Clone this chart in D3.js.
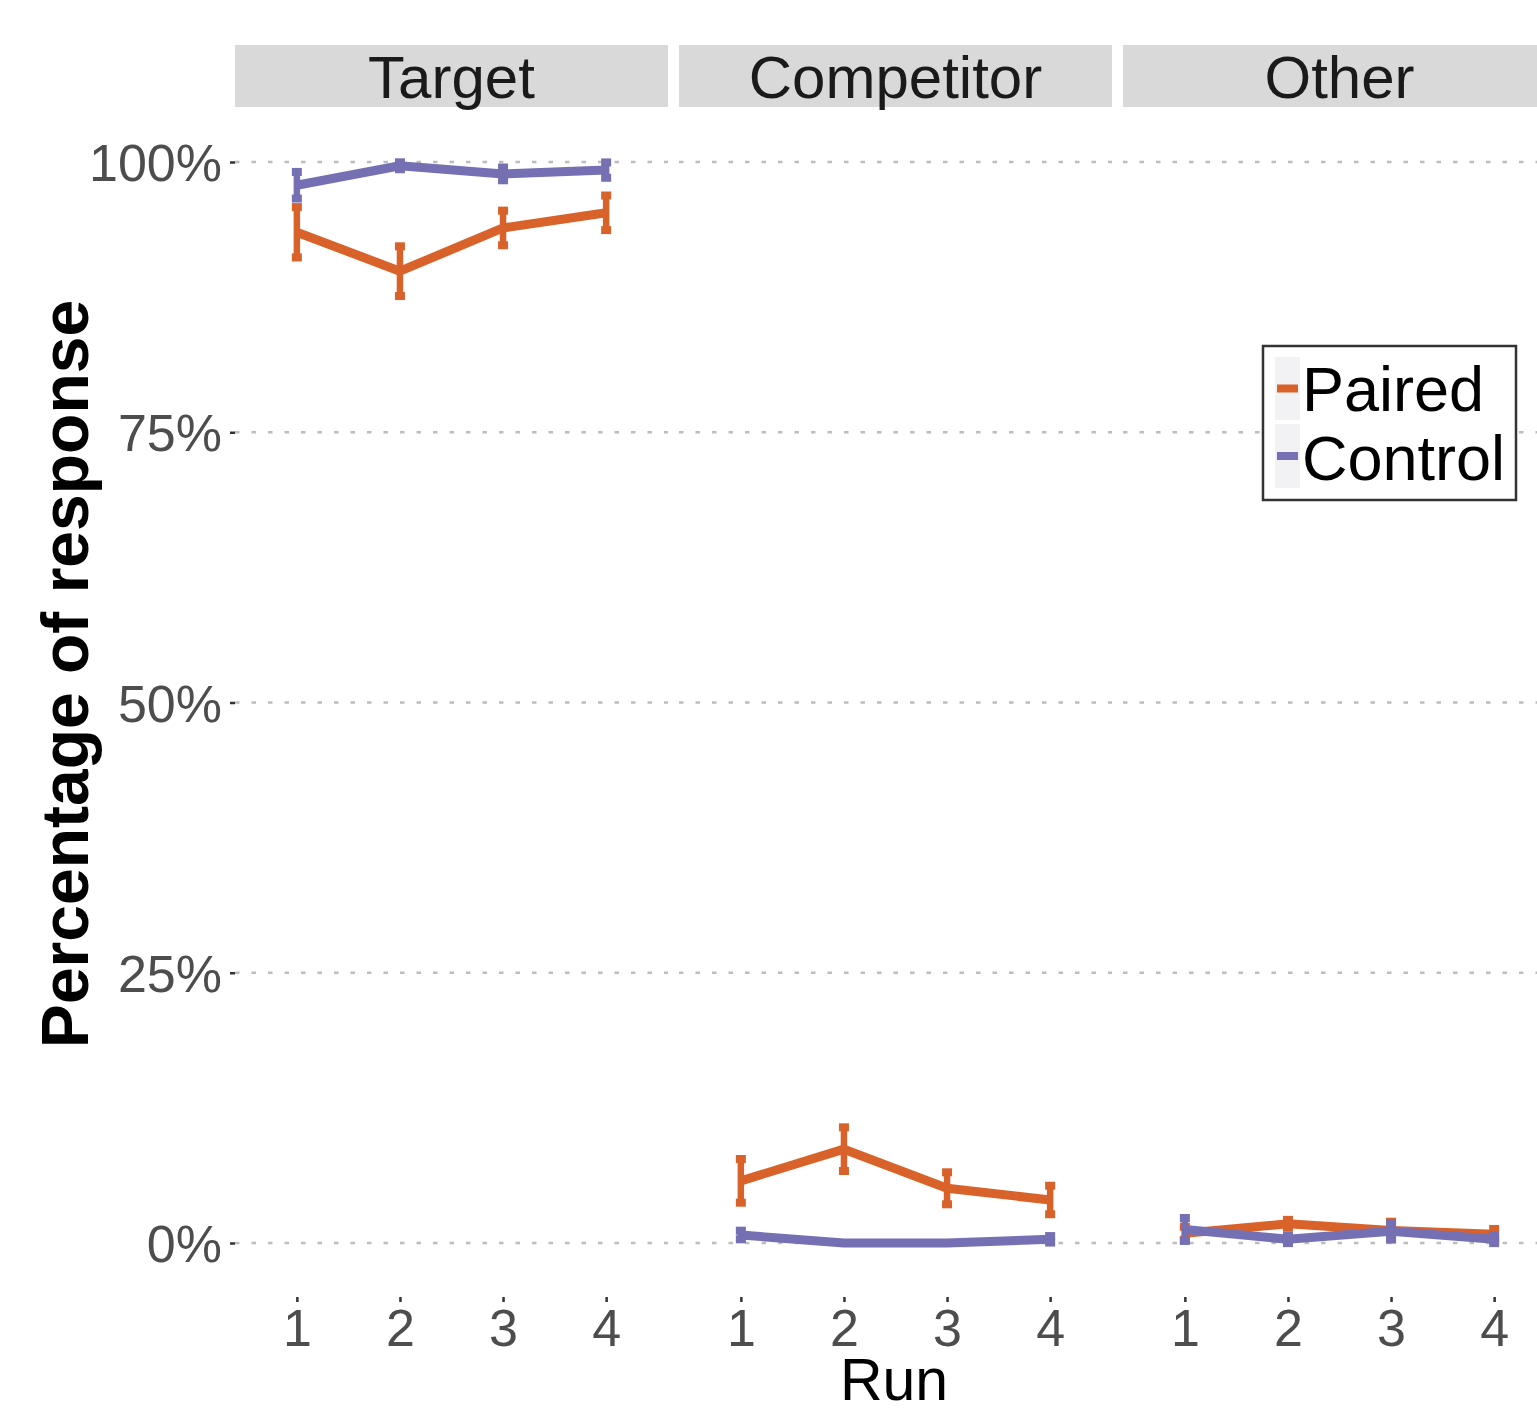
<!DOCTYPE html>
<html>
<head>
<meta charset="utf-8">
<script src="https://cdn.jsdelivr.net/npm/d3@7"></script>
<style>
  html, body { margin: 0; padding: 0; background: #ffffff; }
  svg { display: block; font-family: "Liberation Sans", Arial, sans-serif; }
</style>
</head>
<body>
<svg id="chart" width="1537" height="1412"></svg>
<script>
// Facets, runs and response groups
const facets = ["Target", "Competitor", "Other"];
const runs = ["1", "2", "3", "4"];
const groups = ["Paired", "Control"];
const yTicks = [0, 0.25, 0.5, 0.75, 1];

// Mean proportion of responses per run, one array per facet
const pairedTarget     = [0.935, 0.899, 0.939, 0.953];
const controlTarget    = [0.9785, 0.9965, 0.989, 0.9925];
const pairedCompetitor = [0.0575, 0.0868, 0.0506, 0.0398];
const controlCompetitor= [0.0074, 0.0, 0.0, 0.0034];
const pairedOther      = [0.009, 0.0178, 0.0115, 0.008];
const controlOther     = [0.0125, 0.0034, 0.0108, 0.0034];

// Standard errors (half-widths of the error bars)
const pairedTargetSE     = [0.0233, 0.023, 0.016, 0.016];
const controlTargetSE    = [0.0123, 0.0032, 0.0059, 0.0071];
const pairedCompetitorSE = [0.0202, 0.0202, 0.0148, 0.0132];
const controlCompetitorSE= [0.004, 0.0, 0.0, 0.003];
const pairedOtherSE      = [0.006, 0.0036, 0.0082, 0.005];
const controlOtherSE     = [0.0106, 0.0035, 0.0074, 0.0035];

const series = {
  Target:     { Paired: [pairedTarget, pairedTargetSE],         Control: [controlTarget, controlTargetSE] },
  Competitor: { Paired: [pairedCompetitor, pairedCompetitorSE], Control: [controlCompetitor, controlCompetitorSE] },
  Other:      { Paired: [pairedOther, pairedOtherSE],           Control: [controlOther, controlOtherSE] }
};

const colors = { Paired: "#D9622B", Control: "#7570B3" };

// Layout
const panelLeft = 235, panelW = 433, panelGap = 11;
const stripTop = 45, stripBottom = 107, panelBottom = 1297;

const svg = d3.select("#chart");

const y = d3.scaleLinear().domain([0, 1]).range([1243, 162]);
const x = d3.scalePoint().domain(runs).range([0, panelW]).padding(0.6);

facets.forEach((facet, i) => {
  const px = panelLeft + i * (panelW + panelGap);
  const g = svg.append("g").attr("transform", `translate(${px},0)`);

  // strip
  g.append("rect")
    .attr("x", 0).attr("y", stripTop)
    .attr("width", panelW).attr("height", stripBottom - stripTop)
    .attr("fill", "#d9d9d9");
  g.append("text")
    .attr("x", panelW / 2).attr("y", 98)
    .attr("text-anchor", "middle")
    .attr("font-size", 60)
    .attr("fill", "#1a1a1a")
    .text(facet);

  // dotted horizontal gridlines
  g.selectAll("line.grid").data(yTicks).join("line")
    .attr("class", "grid")
    .attr("x1", 0).attr("x2", panelW)
    .attr("y1", d => y(d)).attr("y2", d => y(d))
    .attr("stroke", "#bdbdbd")
    .attr("stroke-width", 2.6)
    .attr("stroke-dasharray", "4.5,12");

  // x axis
  const xAxis = g.append("g")
    .attr("transform", `translate(0,${panelBottom})`)
    .call(d3.axisBottom(x).tickSize(5).tickPadding(7));
  xAxis.select(".domain").remove();
  xAxis.selectAll(".tick line").attr("stroke", "#333333").attr("stroke-width", 2.5);
  xAxis.selectAll(".tick text")
    .attr("font-size", 52)
    .attr("fill", "#4d4d4d")
    .attr("font-family", "Liberation Sans, Arial, sans-serif");

  // series: Paired first, Control drawn on top
  groups.forEach(grp => {
    const [means, ses] = series[facet][grp];
    const pts = runs.map((r, k) => ({ r, m: means[k], se: ses[k] }));
    const col = colors[grp];

    g.append("path")
      .datum(pts)
      .attr("fill", "none")
      .attr("stroke", col)
      .attr("stroke-width", 9)
      .attr("stroke-linejoin", "round")
      .attr("d", d3.line().x(d => x(d.r)).y(d => y(d.m)));

    const eb = g.append("g");
    eb.selectAll("line.v").data(pts).join("line")
      .attr("x1", d => x(d.r)).attr("x2", d => x(d.r))
      .attr("y1", d => y(d.m + d.se)).attr("y2", d => y(d.m - d.se))
      .attr("stroke", col).attr("stroke-width", 6.5);
    const caps = pts.flatMap(d => [{ r: d.r, v: d.m + d.se }, { r: d.r, v: d.m - d.se }]);
    eb.selectAll("rect.cap").data(caps).join("rect")
      .attr("x", d => x(d.r) - 5).attr("y", d => y(d.v) - 4)
      .attr("width", 10).attr("height", 8)
      .attr("fill", col);
  });
});

// y axis (left of the first panel)
const yAxis = svg.append("g")
  .attr("transform", `translate(${panelLeft},0)`)
  .call(d3.axisLeft(y).tickValues(yTicks).tickFormat(d3.format(".0%")).tickSize(5).tickPadding(8));
yAxis.select(".domain").remove();
yAxis.selectAll(".tick line").attr("stroke", "#333333").attr("stroke-width", 2.5);
yAxis.selectAll(".tick text")
  .attr("font-size", 52)
  .attr("fill", "#4d4d4d")
  .attr("dy", "0.36em")
  .attr("font-family", "Liberation Sans, Arial, sans-serif");

// axis titles
svg.append("text")
  .attr("x", 894).attr("y", 1400)
  .attr("text-anchor", "middle")
  .attr("font-size", 59)
  .attr("fill", "#000000")
  .text("Run");

svg.append("text")
  .attr("transform", "translate(88,674) rotate(-90)")
  .attr("text-anchor", "middle")
  .attr("font-size", 66)
  .attr("font-weight", "bold")
  .attr("fill", "#000000")
  .text("Percentage of response");

// legend
const legend = svg.append("g");
legend.append("rect")
  .attr("x", 1263).attr("y", 346).attr("width", 253).attr("height", 154)
  .attr("fill", "#ffffff").attr("stroke", "#333333").attr("stroke-width", 2.5);
const keyY = { Paired: [357, 63], Control: [424, 64] };
const textY = { Paired: 411, Control: 480 };
groups.forEach(grp => {
  const [ky, kh] = keyY[grp];
  legend.append("rect")
    .attr("x", 1275).attr("y", ky).attr("width", 25).attr("height", kh)
    .attr("fill", "#f2f2f4");
  legend.append("line")
    .attr("x1", 1277).attr("x2", 1298)
    .attr("y1", ky + kh / 2).attr("y2", ky + kh / 2)
    .attr("stroke", colors[grp]).attr("stroke-width", 8);
  legend.append("text")
    .attr("x", 1302).attr("y", textY[grp])
    .attr("font-size", 63)
    .attr("fill", "#000000")
    .text(grp);
});
</script>
</body>
</html>
